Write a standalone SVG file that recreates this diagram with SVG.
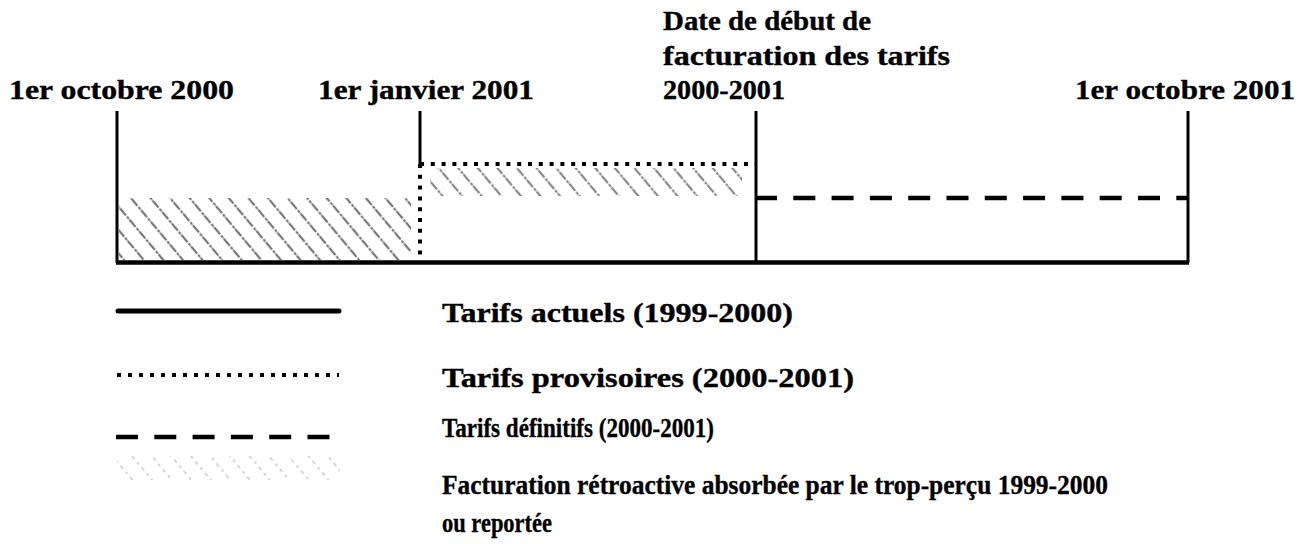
<svg xmlns="http://www.w3.org/2000/svg" width="1303" height="544" viewBox="0 0 1303 544">
<style>
.lbl{font-family:"Liberation Serif","Times New Roman",serif;font-weight:bold;font-size:26.5px;fill:#000;stroke:#000;stroke-width:0.35}
.leg{font-family:"Liberation Serif","Times New Roman",serif;font-weight:bold;font-size:27.5px;fill:#000;stroke:#000;stroke-width:0.35}
.solid{stroke:#000;stroke-width:3;fill:none}
.dotted{stroke:#000;stroke-width:4;stroke-dasharray:4 6.8;fill:none}
.dashed{stroke:#000;stroke-width:4.5;stroke-dasharray:22 16.3;fill:none}
</style>
<defs>
<pattern id="hatch" patternUnits="userSpaceOnUse" width="15" height="15" patternTransform="rotate(-40)">
<line x1="3" y1="0" x2="3" y2="15" stroke="#555" stroke-width="2.2" stroke-dasharray="6 1.5 3 1"/>
</pattern>
<pattern id="hatchLight" patternUnits="userSpaceOnUse" width="15" height="15" patternTransform="rotate(-40)">
<line x1="3" y1="0" x2="3" y2="15" stroke="#c4c4c4" stroke-width="1.4" stroke-dasharray="3 4"/>
</pattern>
</defs>

<g id="hatch-areas">
<rect x="119" y="198" width="292" height="62" fill="url(#hatch)" opacity="0.8"/>
<rect x="430" y="168" width="312" height="28" fill="url(#hatch)" opacity="0.7"/>
</g>

<g id="connectors">
<line class="solid" x1="117" y1="111" x2="117" y2="263"/>
<line class="solid" x1="420" y1="111" x2="420" y2="164"/>
<line class="dotted" x1="420" y1="164" x2="420" y2="263"/>
<line class="solid" x1="756" y1="111" x2="756" y2="263"/>
<line class="solid" x1="1188" y1="111" x2="1188" y2="263"/>
<line class="dotted" x1="420" y1="164" x2="756" y2="164"/>
<line class="dashed" x1="755" y1="198" x2="1188" y2="198"/>
<line stroke="#000" stroke-width="4.5" x1="116" y1="262.5" x2="1189" y2="262.5"/>
</g>

<g id="label-oct2000"><text class="lbl" x="9" y="99" textLength="225" lengthAdjust="spacingAndGlyphs">1er octobre 2000</text></g>
<g id="label-jan2001"><text class="lbl" x="318" y="99" textLength="216" lengthAdjust="spacingAndGlyphs">1er janvier 2001</text></g>
<g id="label-debut">
<text class="lbl" x="663" y="30" textLength="208" lengthAdjust="spacingAndGlyphs">Date de début de</text>
<text class="lbl" x="663" y="65" textLength="287" lengthAdjust="spacingAndGlyphs">facturation des tarifs</text>
<text class="lbl" x="663" y="99" textLength="122" lengthAdjust="spacingAndGlyphs">2000-2001</text>
</g>
<g id="label-oct2001"><text class="lbl" x="1075" y="99" textLength="220" lengthAdjust="spacingAndGlyphs">1er octobre 2001</text></g>

<g id="legend-actuels">
<line x1="118" y1="311" x2="339" y2="311" stroke="#000" stroke-width="5" stroke-linecap="round"/>
<text class="leg" x="442" y="322" textLength="351" lengthAdjust="spacingAndGlyphs">Tarifs actuels (1999-2000)</text>
</g>
<g id="legend-provisoires">
<line x1="117" y1="375" x2="339" y2="375" stroke="#000" stroke-width="4" stroke-dasharray="4 7"/>
<text class="leg" x="442" y="387" textLength="412" lengthAdjust="spacingAndGlyphs">Tarifs provisoires (2000-2001)</text>
</g>
<g id="legend-definitifs">
<line class="dashed" x1="116" y1="437" x2="330" y2="437" stroke-dasharray="21 17.2"/>
<text class="leg" x="442" y="437" textLength="272" lengthAdjust="spacingAndGlyphs">Tarifs définitifs (2000-2001)</text>
</g>
<g id="legend-retroactive">
<rect x="117" y="456" width="223" height="24" fill="url(#hatchLight)"/>
<text class="leg" x="442" y="494" textLength="666" lengthAdjust="spacingAndGlyphs">Facturation rétroactive absorbée par le trop-perçu 1999-2000</text>
<text class="leg" x="442" y="532" textLength="110" lengthAdjust="spacingAndGlyphs">ou reportée</text>
</g>
</svg>
